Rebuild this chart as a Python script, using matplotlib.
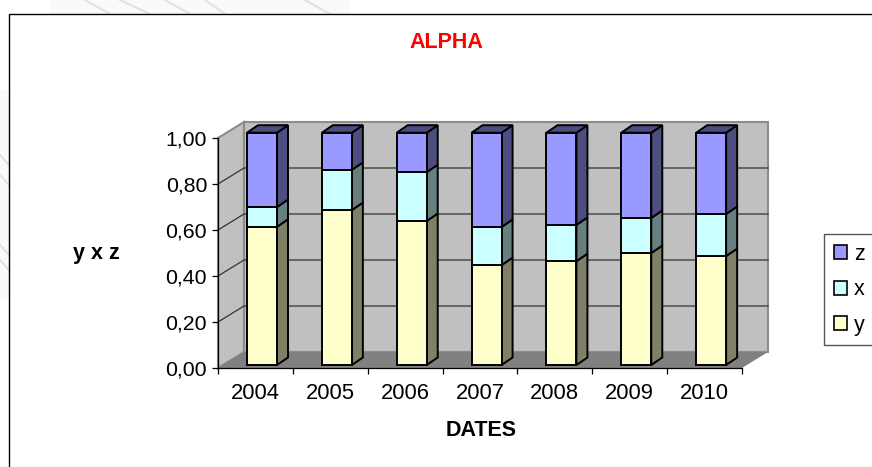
import matplotlib
matplotlib.use("Agg")
from matplotlib import pyplot as plt
from matplotlib.patches import Polygon, Patch, Rectangle

plt.rcParams['font.family'] = ['Liberation Sans', 'DejaVu Sans']

# Data (shares per year)
years = ['2004', '2005', '2006', '2007', '2008', '2009', '2010']
y_share = [0.595, 0.667, 0.62, 0.43, 0.447, 0.482, 0.469]
x_share = [0.085, 0.173, 0.21, 0.164, 0.156, 0.151, 0.181]
z_share = [0.32, 0.16, 0.17, 0.406, 0.397, 0.367, 0.35]
y_ticks = [0.0, 0.2, 0.4, 0.6, 0.8, 1.0]
y_tick_labels = ['0,00', '0,20', '0,40', '0,60', '0,80', '1,00']

W, H = 872, 467
fig = plt.figure(figsize=(W / 100, H / 100), dpi=100)

# Page layer in pixel coordinates, for the frame and the faint watermark
page = fig.add_axes([0, 0, 1, 1])
page.set_xlim(0, W)
page.set_ylim(H, 0)
page.axis('off')
page.add_patch(Rectangle((50, 0), 300, 14, facecolor='#fafafa', edgecolor='none', zorder=0))
page.add_patch(Rectangle((0, 90), 9, 210, facecolor='#fafafa', edgecolor='none', zorder=0))
for wx0, wy0, wx1, wy1 in [(85, 0, 110, 14), (120, 0, 150, 14), (165, 0, 190, 14),
                           (205, 0, 225, 14), (305, 0, 330, 14), (0, 155, 9, 165),
                           (0, 175, 9, 185), (0, 245, 9, 255), (0, 260, 9, 270)]:
    page.plot([wx0, wx1], [wy0, wy1], color='#e2e2e2', lw=1.5, zorder=0)
page.add_patch(Rectangle((9, 14), 900, 500, facecolor='white', edgecolor='black',
                         lw=1.0, zorder=1))

# Front plane of the 3D box
left, right, bottom, top = 218, 742, 368, 138
ax = fig.add_axes([left / W, 1 - bottom / H, (right - left) / W, (bottom - top) / H])
ax.set_xlim(0, len(years))
ax.set_ylim(0, 1)
ax.patch.set_visible(False)

n = len(years)
px_x = (right - left) / n
px_y = bottom - top
depth_x = 26 / px_x   # depth of the box in data units
depth_y = 16 / px_y

wall_edge = '#8c8c8c'


def poly(points, **kw):
    kw.setdefault('clip_on', False)
    ax.add_patch(Polygon(points, closed=True, **kw))


# Walls and floor
poly([(0, 0), (depth_x, depth_y), (depth_x, 1 + depth_y), (0, 1)],
     facecolor='#c0c0c0', edgecolor=wall_edge, lw=1.5, zorder=1)
poly([(depth_x, depth_y), (n + depth_x, depth_y), (n + depth_x, 1 + depth_y), (depth_x, 1 + depth_y)],
     facecolor='#c0c0c0', edgecolor=wall_edge, lw=1.5, zorder=1)
poly([(0, 0), (n, 0), (n + depth_x, depth_y), (depth_x, depth_y)],
     facecolor='#808080', edgecolor='none', zorder=1)

# Gridlines across side wall and back wall
for t in y_ticks[1:-1]:
    ax.plot([0, depth_x, n + depth_x], [t, t + depth_y, t + depth_y],
            color='#333333', lw=0.9, clip_on=False, zorder=2)

# Stacked 3D bars
series = [(y_share, '#ffffcc', '#808066'),
          (x_share, '#ccffff', '#668080'),
          (z_share, '#9999ff', '#4d4d80')]
bar_w = 30 / px_x
bar_off_x = 29 / px_x   # left edge of a bar inside its slot
bar_off_y = 3 / px_y
side_x = 11 / px_x
side_y = 7.5 / px_y
bar_scale = 232.3 / px_y  # bars run a little taller than the front plane

for i in range(n):
    base = 0.0
    x0 = i + bar_off_x
    x1 = x0 + bar_w
    for values, front, dark in series:
        v0 = base * bar_scale + bar_off_y
        base += values[i]
        v1 = base * bar_scale + bar_off_y
        poly([(x0, v0), (x1, v0), (x1, v1), (x0, v1)], facecolor=front,
             edgecolor='black', lw=1.4, zorder=5, joinstyle='miter')
        poly([(x1, v0), (x1 + side_x, v0 + side_y), (x1 + side_x, v1 + side_y), (x1, v1)],
             facecolor=dark, edgecolor='black', lw=1.4, zorder=4, joinstyle='miter')
    poly([(x0, v1), (x1, v1), (x1 + side_x, v1 + side_y), (x0 + side_x, v1 + side_y)],
         facecolor=series[2][2], edgecolor='black', lw=1.4, zorder=4, joinstyle='miter')

# Axes
for side in ['top', 'right']:
    ax.spines[side].set_visible(False)
for side in ['left', 'bottom']:
    ax.spines[side].set_color('black')
    ax.spines[side].set_linewidth(0.9)
ax.spines['left'].set_zorder(3)
ax.set_yticks(y_ticks)
ax.set_yticklabels(y_tick_labels, fontsize=15.3, color='black')
ax.set_xticks(range(n + 1))
ax.set_xticklabels([])
ax.set_xticks([i + 0.5 for i in range(n)], minor=True)
ax.set_xticklabels(years, minor=True, fontsize=15.8)
ax.tick_params(axis='x', which='minor', length=0, pad=10.5)
ax.tick_params(axis='x', which='major', length=4.3, width=0.9)
ax.tick_params(axis='y', length=4.3, width=0.9, pad=3.6)

# Titles as figure text
fig.text(446 / W, 1 - 42 / H, 'ALPHA', color='#ff0000', fontsize=15.5, weight='bold',
         ha='center', va='center')
fig.text(96 / W, 1 - 254 / H, 'y x z', color='black', fontsize=15.5, weight='bold',
         ha='center', va='center')
fig.text(481 / W, 1 - 431 / H, 'DATES', color='black', fontsize=15.5, weight='bold',
         ha='center', va='center')

# Legend
handles = [Patch(facecolor=series[2][1], edgecolor='black', lw=1.2, label='z'),
           Patch(facecolor=series[1][1], edgecolor='black', lw=1.2, label='x'),
           Patch(facecolor=series[0][1], edgecolor='black', lw=1.2, label='y')]
fig.legend(handles=handles, loc='upper left', bbox_to_anchor=(824 / W, 1 - 234 / H),
           borderaxespad=0, fontsize=15.5, frameon=True, fancybox=False,
           edgecolor='#555555', framealpha=1, handlelength=0.62, handleheight=0.62,
           handletextpad=0.33, labelspacing=0.67, borderpad=0.45)

fig.savefig('out.png', dpi=100)
